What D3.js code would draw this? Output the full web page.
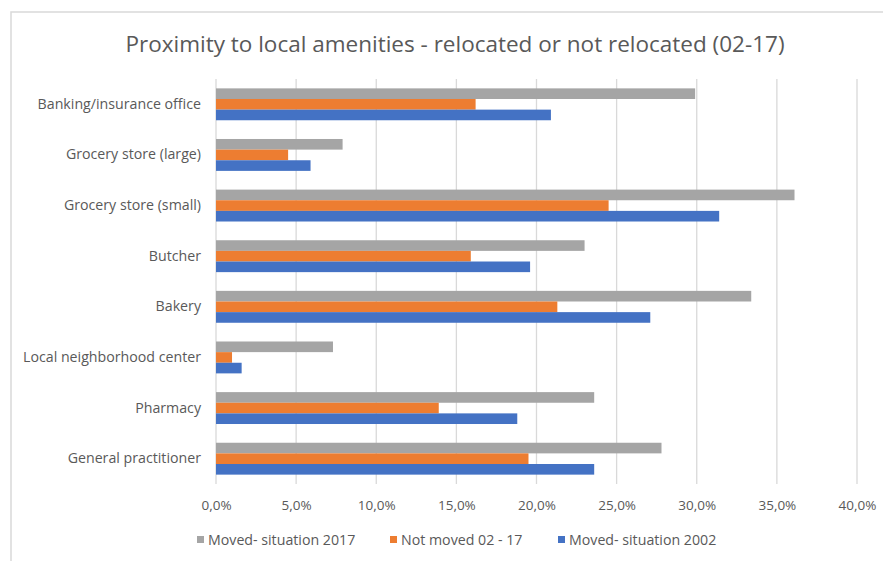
<!DOCTYPE html>
<html><head><meta charset="utf-8">
<script src="https://cdn.jsdelivr.net/npm/d3@7"></script>
<style>
body{margin:0;background:#fff;}
text{font-family:"Open Sans",sans-serif;fill:#595959;}
</style></head><body>
<svg id="c" width="883" height="561"></svg>
<script>
const categories = ["Banking/insurance office","Grocery store (large)","Grocery store (small)","Butcher","Bakery","Local neighborhood center","Pharmacy","General practitioner"];
const seriesNames = ["Moved- situation 2017","Not moved 02 - 17","Moved- situation 2002"];
const moved2017 = [29.9, 7.9, 36.1, 23.0, 33.4, 7.3, 23.6, 27.8];
const notMoved = [16.2, 4.5, 24.5, 15.9, 21.3, 1.0, 13.9, 19.5];
const moved2002 = [20.9, 5.9, 31.4, 19.6, 27.1, 1.6, 18.8, 23.6];
const xTicks = [0,5,10,15,20,25,30,35,40];
const colors = ["#A5A5A5","#ED7D31","#4472C4"];
const series = [moved2017, notMoved, moved2002];

const svg = d3.select("#c");
svg.append("rect").attr("x",11).attr("y",12).attr("width",900).attr("height",600)
  .attr("fill","none").attr("stroke","#D9D9D9").attr("stroke-width",1.5);

svg.append("text").attr("x",455).attr("y",52).attr("text-anchor","middle")
  .style("font-size","22.5px").text("Proximity to local amenities - relocated or not relocated (02-17)");

const x = d3.scaleLinear().domain([0,40]).range([216,857]);
const y = d3.scaleBand().domain(categories).range([79,484]).paddingInner(0.37).paddingOuter(0.185);
const yi = d3.scaleBand().domain(d3.range(3)).range([0,y.bandwidth()]);

svg.append("g").selectAll("line").data(xTicks).join("line")
  .attr("x1",d=>x(d)).attr("x2",d=>x(d)).attr("y1",79).attr("y2",484)
  .attr("stroke","#D9D9D9").attr("stroke-width",1.3);

series.forEach((vals,si)=>{
  svg.append("g").selectAll("rect").data(vals).join("rect")
    .attr("x",x(0)).attr("y",(d,i)=>y(categories[i])+yi(si))
    .attr("width",d=>x(d)-x(0)).attr("height",yi.bandwidth())
    .attr("fill",colors[si]);
});

const xAxis = d3.axisBottom(x).tickValues(xTicks).tickSize(0).tickPadding(0)
  .tickFormat(d=>d3.format(".1f")(d).replace(".",",")+"%");
const gx = svg.append("g").attr("transform","translate(0,510)").call(xAxis);
gx.select(".domain").remove();
gx.selectAll("text").attr("dy",0).style("font-size","13.5px").style("fill","#595959");

const yAxis = d3.axisLeft(y).tickSize(0).tickPadding(0);
const gy = svg.append("g").attr("transform","translate(201,0)").call(yAxis);
gy.select(".domain").remove();
gy.selectAll("text").style("font-size","14.2px").style("fill","#595959");

const legX = [197, 390, 558];
const lg = svg.append("g");
seriesNames.forEach((n,i)=>{
  lg.append("rect").attr("x",legX[i]).attr("y",536).attr("width",7).attr("height",7).attr("fill",colors[i]);
  lg.append("text").attr("x",legX[i]+11).attr("y",545).style("font-size","14.2px").text(n);
});
</script>
</body></html>
